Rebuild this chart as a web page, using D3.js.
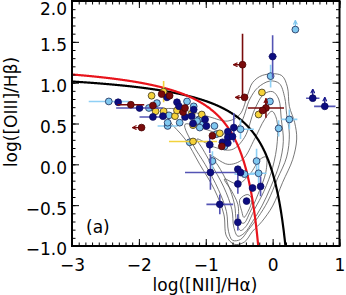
<!DOCTYPE html>
<html>
<head>
<script src="https://cdn.jsdelivr.net/npm/d3@7"></script>
<style>
body{margin:0;background:#fff}
text{font-family:"DejaVu Sans",sans-serif;font-size:17px;fill:#000}
</style>
</head>
<body>
<div></div>
<script>
var xTicks = [-3,-2,-1,0,1]
var yTicks = [-1.0,-0.5,0.0,0.5,1.0,1.5,2.0]

// points: [logNII/Ha, logOIII/Hb, xerr, yerr, limit]  ("l" = arrow left, "u" = arrow up)
var lightBlue = [
  [0.34,1.65,0,0,"u"],[-0.03,1.08,0,0.14,""],[-0.04,0.77,0,0,""],[0.25,0.55,0.12,0.12,""],
  [0.09,0.44,0,0.10,""],[-0.48,0.43,0.2,0.12,""],[-0.24,0.04,0,0.15,""],[-0.21,-0.11,0.12,0.12,""],
  [-0.42,-0.12,0.15,0,""],[-2.45,0.77,0.3,0,""],[-1.57,0.47,0.15,0,""],[-1.78,0.70,0,0,""],
  [-1.73,0.75,0,0,""],[-1.55,0.60,0,0,""],[-1.28,0.77,0,0,""],[-1.57,0.51,0,0,""],
  [-1.39,0.51,0,0,""],[-1.10,0.55,0,0,""],[-1.04,0.49,0,0,""],[-1.18,0.71,0,0,""],
  [-1.13,0.53,0,0,""],[-1.09,0.45,0,0,""],[-0.87,0.47,0,0,""],[-0.84,0.37,0,0,""],
  [-1.24,0.27,0,0,""],[-0.72,0.22,0,0,""],[-0.90,0.04,0,0.12,""],[-1.85,0.69,0,0,""]
]
var yellow = [
  [-1.81,0.84,0,0,""],[-1.63,0.89,0,0.13,""],[-1.75,0.65,0,0,""],[-1.63,0.65,0,0,""],
  [-1.46,0.59,0,0,""],[-1.43,0.66,0,0,""],[-1.21,0.62,0,0,""],[-1.06,0.61,0,0,""],
  [-1.19,0.48,0,0,""],[-1.19,0.28,0.36,0,""],[-0.79,0.38,0,0,""],[-0.16,0.88,0,0,""],
  [-0.21,0.61,0,0,""]
]
var navy = [
  [0.0,1.32,0.06,0.26,""],[0.60,0.81,0.1,0,"u"],[0.78,0.71,0.16,0,"u"],[-2.31,0.76,0,0,""],
  [-1.99,0.69,0.35,0,""],[-1.79,0.58,0.2,0,""],[-1.64,0.59,0,0,""],[-1.31,0.58,0,0,""],
  [-1.21,0.59,0,0,""],[-1.58,0.82,0,0,""],[-1.43,0.76,0,0,""],[-1.40,0.71,0,0,""],
  [-1.18,0.67,0,0,""],[-1.19,0.50,0,0,""],[-1.01,0.55,0,0,""],[-0.99,0.47,0,0,""],
  [-0.94,0.24,0,0.1,""],[-0.75,0.27,0,0,""],[-0.67,0.40,0,0,""],[-0.67,0.33,0,0,""],
  [-0.60,0.34,0,0,""],[-0.58,0.45,0,0.18,""],[-0.67,0.26,0,0,""],[-0.93,-0.10,0.38,0.21,""],
  [-0.52,-0.06,0,0,""],[-0.48,-0.10,0,0,""],[-0.52,-0.24,0,0.12,""],[-0.30,-0.29,0,0,""],
  [-0.18,-0.27,0,0.12,""],[-0.39,-0.45,0,0,""],[-0.52,-0.71,0,0.1,""],[-0.79,-0.49,0.2,0.12,""]
]
var maroon = [
  [-0.45,1.22,0,0.38,"l"],[-0.42,0.82,0,0,"l"],[-0.10,0.69,0.27,0.12,"u"],[-0.15,0.66,0,0,""],
  [-1.66,0.86,0,0,""],[-1.54,0.84,0,0,""],[-1.79,0.72,0,0,""],[-2.12,0.73,0.2,0,""],
  [-1.96,0.45,0,0,"l"],[-1.34,0.64,0,0,""],[-1.31,0.69,0,0,""],[-0.90,0.35,0,0,""],
  [-0.76,0.22,0,0,""]
]

// SDSS galaxy density contours, outermost first
var contours = [
  [[-1.61,0.67],[-1.24,0.65],[-0.94,0.58],[-0.67,0.53],[-0.49,0.61],[-0.37,0.86],[-0.30,1.00],
   [-0.15,1.09],[0.13,1.09],[0.22,0.95],[0.25,0.71],[0.33,0.51],[0.36,0.31],[0.30,0.06],
   [0.15,-0.22],[0.0,-0.51],[-0.16,-0.70],[-0.30,-0.82],[-0.42,-0.95],[-0.57,-0.98],
   [-0.69,-0.88],[-0.73,-0.61],[-0.87,-0.31],[-1.09,0.0],[-1.31,0.31],[-1.54,0.53]],
  [[-1.31,0.49],[-1.01,0.43],[-0.72,0.37],[-0.49,0.49],[-0.34,0.80],[-0.22,0.94],[-0.04,1.02],
   [0.10,0.99],[0.18,0.82],[0.21,0.61],[0.25,0.37],[0.21,0.09],[0.07,-0.18],[-0.07,-0.45],
   [-0.22,-0.65],[-0.36,-0.80],[-0.48,-0.92],[-0.60,-0.93],[-0.66,-0.82],[-0.69,-0.58],
   [-0.81,-0.31],[-1.01,0.0],[-1.19,0.24]],
  [[-1.13,0.31],[-0.87,0.21],[-0.61,0.18],[-0.42,0.33],[-0.27,0.67],[-0.13,0.86],[0.0,0.89],
   [0.09,0.80],[0.13,0.55],[0.16,0.28],[0.10,0.0],[-0.03,-0.28],[-0.16,-0.51],[-0.30,-0.70],
   [-0.42,-0.84],[-0.52,-0.88],[-0.58,-0.77],[-0.61,-0.55],[-0.73,-0.28],[-0.93,0.02],[-1.04,0.18]],
  [[-0.94,0.12],[-0.67,0.0],[-0.45,0.06],[-0.27,0.31],[-0.12,0.55],[-0.01,0.65],[0.06,0.55],
   [0.07,0.28],[0.0,-0.04],[-0.13,-0.33],[-0.27,-0.55],[-0.39,-0.75],[-0.48,-0.81],[-0.54,-0.70],
   [-0.57,-0.49],[-0.67,-0.24],[-0.82,-0.01]],
  [[-0.72,-0.18],[-0.52,-0.24],[-0.34,-0.12],[-0.19,0.06],[-0.10,0.09],[-0.10,-0.09],[-0.22,-0.37],
   [-0.34,-0.59],[-0.43,-0.72],[-0.49,-0.70],[-0.52,-0.49],[-0.61,-0.33]],
  [[-0.49,-0.43],[-0.37,-0.37],[-0.31,-0.43],[-0.37,-0.58],[-0.43,-0.65],[-0.46,-0.58]]
]

// demarcation lines: y = a/(x - b) + c
var kauffmann = {a:0.61, b:0.05, c:1.3, xmax:-0.2}
var kewley = {a:0.61, b:0.47, c:1.19, xmax:0.2}

var W = 346, H = 295
var pL = 72, pR = 339.5, pT = 1, pB = 246

var svg = d3.select("div").append("svg").attr("width",W).attr("height",H)
var x = d3.scaleLinear().domain([-3,1]).range([pL,pR])
var y = d3.scaleLinear().domain([-1,2]).range([pB,pT])

svg.append("clipPath").attr("id","clip").append("rect")
  .attr("x",pL).attr("y",pT).attr("width",pR-pL).attr("height",pB-pT)

var defs = svg.append("defs")
function marker(id, col) {
  defs.append("marker").attr("id",id).attr("viewBox","0 0 10 10").attr("refX",9).attr("refY",5)
    .attr("markerUnits","userSpaceOnUse").attr("markerWidth",5).attr("markerHeight",5).attr("orient","auto")
    .append("path").attr("d","M1,1 L9,5 L1,9").attr("fill","none").attr("stroke",col).attr("stroke-width",2.4)
}
marker("arLB","#7fc6ee"); marker("arNV","#1a1a8c"); marker("arMR","#7a0b0b")

var plot = svg.append("g").attr("clip-path","url(#clip)")

// contours
var cline = d3.line().x(d => x(d[0])).y(d => y(d[1])).curve(d3.curveCatmullRomClosed.alpha(0.5))
plot.selectAll("path.ct").data(contours).enter().append("path")
  .attr("d",cline).attr("fill","none").attr("stroke","#555").attr("stroke-width",0.8)

// demarcation curves
var curveLine = d3.line().x(d => x(d[0])).y(d => y(d[1]))
function curvePts(c) {
  return d3.range(-3, c.xmax, 0.005).map(v => [v, c.a/(v - c.b) + c.c])
}
plot.append("path").attr("d",curveLine(curvePts(kewley))).attr("fill","none")
  .attr("stroke","#000").attr("stroke-width",2.2)
plot.append("path").attr("d",curveLine(curvePts(kauffmann))).attr("fill","none")
  .attr("stroke","#e8141c").attr("stroke-width",2.2)

// points
function drawGroup(data, fill, stroke, errCol, arrow) {
  var g = plot.append("g")
  data.forEach(d => {
    if (d[2] > 0) g.append("line").attr("x1",x(d[0]-d[2])).attr("x2",x(d[0]+d[2]))
      .attr("y1",y(d[1])).attr("y2",y(d[1])).attr("stroke",errCol).attr("stroke-width",1.6)
    if (d[3] > 0) g.append("line").attr("x1",x(d[0])).attr("x2",x(d[0]))
      .attr("y1",y(d[1]-d[3])).attr("y2",y(d[1]+d[3])).attr("stroke",errCol).attr("stroke-width",1.6)
    if (d[4] == "l") g.append("line").attr("x1",x(d[0])).attr("x2",x(d[0])-9)
      .attr("y1",y(d[1])).attr("y2",y(d[1])).attr("stroke",arrow[1]).attr("stroke-width",1.4)
      .attr("marker-end","url(#"+arrow[0]+")")
    if (d[4] == "u") g.append("line").attr("x1",x(d[0])).attr("x2",x(d[0]))
      .attr("y1",y(d[1])).attr("y2",y(d[1])-9).attr("stroke",arrow[1]).attr("stroke-width",1.4)
      .attr("marker-end","url(#"+arrow[0]+")")
  })
  g.selectAll("circle").data(data).enter().append("circle")
    .attr("cx",d => x(d[0])).attr("cy",d => y(d[1])).attr("r",3.4)
    .attr("fill",fill).attr("stroke",stroke).attr("stroke-width",0.8)
}
drawGroup(lightBlue, "#80c8f0", "#1b2a55", "#8fd0f5", ["arLB","#7fc6ee"])
drawGroup(yellow, "#f5d23a", "#3a3320", "#f2d23c", ["arLB","#f2d23c"])
drawGroup(navy, "#0c0c80", "#0c0c60", "#5454b4", ["arNV","#1a1a8c"])
drawGroup(maroon, "#7a0b0b", "#4a0505", "#7a0b0b", ["arMR","#7a0b0b"])

// axes with inward ticks on all sides
var xMinor = d3.range(-3, 1.001, 0.1)
var yMinor = d3.range(-1, 2.001, 0.1)
function styleAxis(g) { g.select(".domain").remove(); g.selectAll("line").attr("stroke","#000").attr("stroke-width",1) }

svg.append("g").attr("transform","translate(0,"+pB+")")
  .call(d3.axisBottom(x).tickValues(xMinor).tickSize(-3.5).tickFormat("")).call(styleAxis)
svg.append("g").attr("transform","translate(0,"+pT+")")
  .call(d3.axisTop(x).tickValues(xMinor).tickSize(-3.5).tickFormat("")).call(styleAxis)
svg.append("g").attr("transform","translate("+pL+",0)")
  .call(d3.axisLeft(y).tickValues(yMinor).tickSize(-3.5).tickFormat("")).call(styleAxis)
svg.append("g").attr("transform","translate("+pR+",0)")
  .call(d3.axisRight(y).tickValues(yMinor).tickSize(-3.5).tickFormat("")).call(styleAxis)

var fmtX = d => (d < 0 ? "\u2212" : "") + Math.abs(d)
var fmtY = d => (d < 0 ? "\u2212" : "") + Math.abs(d).toFixed(1)

svg.append("g").attr("transform","translate(0,"+pB+")")
  .call(d3.axisBottom(x).tickValues(xTicks).tickSize(-7).tickPadding(13).tickFormat(fmtX)).call(styleAxis)
svg.append("g").attr("transform","translate(0,"+pT+")")
  .call(d3.axisTop(x).tickValues(xTicks).tickSize(-7).tickFormat("")).call(styleAxis)
var ya = svg.append("g").attr("transform","translate("+pL+",0)")
  .call(d3.axisLeft(y).tickValues(yTicks).tickSize(-7).tickPadding(5).tickFormat(fmtY)).call(styleAxis)
svg.append("g").attr("transform","translate("+pR+",0)")
  .call(d3.axisRight(y).tickValues(yTicks).tickSize(-7).tickFormat("")).call(styleAxis)
svg.selectAll(".tick text").attr("font-family",null).attr("font-size",null)
ya.selectAll(".tick text").attr("dy",d => d == 2 ? "0.82em" : "0.52em")

svg.append("rect").attr("x",pL).attr("y",pT).attr("width",pR-pL).attr("height",pB-pT)
  .attr("fill","none").attr("stroke","#000").attr("stroke-width",2)

// labels
svg.append("text").attr("x",205).attr("y",291).attr("text-anchor","middle").text("log([NII]/H\u03b1)")
svg.append("text").attr("transform","translate(17,112) rotate(-90)").attr("text-anchor","middle")
  .text("log([OIII]/H\u03b2)")
svg.append("text").attr("x",86).attr("y",233).text("(a)")
</script>
</body>
</html>
